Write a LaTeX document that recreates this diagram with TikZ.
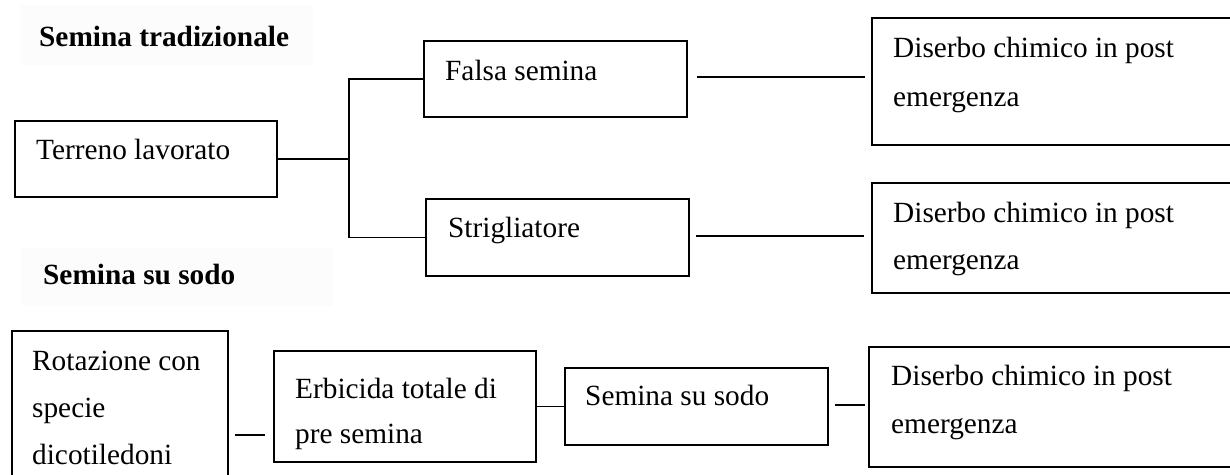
\documentclass[tikz,border=0pt]{standalone}
\usepackage{fontspec}
\setmainfont{Liberation Serif}
\usetikzlibrary{calc}
\begin{document}
\begin{tikzpicture}[x=1pt,y=-1pt,
  box/.style={draw, line width=1.7pt, rectangle, inner sep=0pt, outer sep=0pt, anchor=north west},
  txt/.style={anchor=base west, inner sep=0pt, font=\fontsize{29.3}{35}\selectfont},
  head/.style={anchor=base west, inner sep=0pt, font=\fontsize{29.3}{35}\selectfont\bfseries},
  conn/.style={line width=1.7pt},
  faint/.style={fill=black!1, draw=none}]
\useasboundingbox (0,0) rectangle (1230,474);
\clip (0,0) rectangle (1230,474);
% faint label backgrounds
\fill[faint] (20,5) rectangle (313,65);
\fill[faint] (22,248) rectangle (333,306);
% headings
\node[head] (h1) at (39,46) {Semina tradizionale};
\node[head] (h2) at (43,284) {Semina su sodo};
% boxes
\node[box, minimum width=262pt, minimum height=76pt] (terreno) at (15,121) {};
\node[box, minimum width=263pt, minimum height=76pt] (falsa) at (424,41) {};
\node[box, minimum width=263pt, minimum height=77pt] (strig) at (426,199) {};
\node[box, minimum width=368pt, minimum height=127pt] (dis1) at (872,18) {};
\node[box, minimum width=368pt, minimum height=110pt] (dis2) at (872,183) {};
\node[box, minimum width=216pt, minimum height=159pt] (rot) at (12,331) {};
\node[box, minimum width=262pt, minimum height=111pt] (erb) at (274,351) {};
\node[box, minimum width=263pt, minimum height=77pt] (sem) at (565,368) {};
\node[box, minimum width=371pt, minimum height=120pt] (dis3) at (869,347) {};
% texts
\node[txt] (t1) at (36,159) {Terreno lavorato};
\node[txt] (t2) at (445,80) {Falsa semina};
\node[txt] (t3) at (448,237) {Strigliatore};
\node[txt] (t4a) at (893,57) {Diserbo chimico in post};
\node[txt] (t4b) at (893,106) {emergenza};
\node[txt] (t5a) at (893,222) {Diserbo chimico in post};
\node[txt] (t5b) at (893,269) {emergenza};
\node[txt] (t6a) at (32,370) {Rotazione con};
\node[txt] (t6b) at (32,417) {specie};
\node[txt] (t6c) at (32,464) {dicotiledoni};
\node[txt] (t7a) at (295,398) {Erbicida totale di};
\node[txt] (t7b) at (295,443) {pre semina};
\node[txt] (t8) at (585,405) {Semina su sodo};
\node[txt] (t9a) at (891,385) {Diserbo chimico in post};
\node[txt] (t9b) at (891,433) {emergenza};
% connectors
\coordinate (jx) at (349,159);
\draw[conn] (terreno.east) -- (jx);
\draw[conn] (falsa.west) -- (falsa.west -| jx) -- (strig.west -| jx) -- (strig.west);
\coordinate (c1) at ([xshift=10pt,yshift=2pt]falsa.east);
\draw[conn, shorten >=7pt] (c1) -- (c1 -| dis1.west);
\coordinate (c2) at ([xshift=7pt,yshift=1.5pt]strig.east);
\draw[conn, shorten >=8pt] (c2) -- (c2 -| dis2.west);
\coordinate (r1) at (235,435);
\coordinate (r2) at (265,435);
\draw[conn] (r1) -- (r2);
\draw[conn] (erb.east) -- (sem.west);
\coordinate (c4) at ([xshift=7pt,yshift=1.5pt]sem.east);
\draw[conn, shorten >=4pt] (c4) -- (c4 -| dis3.west);
\end{tikzpicture}
\end{document}
